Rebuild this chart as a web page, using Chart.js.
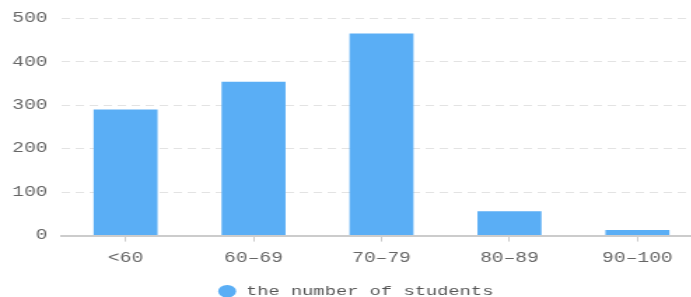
<!DOCTYPE html>
<html>
<head>
<meta charset="utf-8">
<script src="https://cdn.jsdelivr.net/npm/chart.js@4"></script>
<style>
  html, body { margin: 0; padding: 0; background: #fff; overflow: hidden; }
  #wrap { width: 502px; height: 297px; overflow: hidden; transform: scaleX(1.4); transform-origin: 0 0; }
</style>
</head>
<body>
<div id="wrap"><canvas id="chart" width="502" height="308"></canvas></div>
<script>
// 資料
const categories = ['<60', '60-69', '70-79', '80-89', '90-100'];
const students = [290, 354, 465, 56, 13];
const yTicks = [0, 100, 200, 300, 400, 500];

const font = { family: '"Liberation Mono", "DejaVu Sans Mono", monospace', size: 14 };

const ctx = document.getElementById('chart').getContext('2d');
window.scoreChart = new Chart(ctx, {
    type: 'bar',
    data: {
        labels: categories.map(c => c.replace('-', '\u2013')),
        datasets: [{
            label: 'the number of students',
            data: students,
            backgroundColor: '#5aaef5',
            borderWidth: 0,
            barPercentage: 0.5,
            categoryPercentage: 1
        }]
    },
    options: {
        responsive: false,
        animation: false,
        layout: { padding: { top: 17, right: 1, left: 7, bottom: 0 } },
        plugins: {
            legend: {
                position: 'bottom',
                labels: {
                    usePointStyle: true,
                    pointStyle: 'circle',
                    boxWidth: 15,
                    boxHeight: 9,
                    color: '#555',
                    font: { family: font.family, size: 13.4 },
                    padding: 1
                }
            },
            tooltip: { enabled: false }
        },
        scales: {
            x: {
                grid: {
                    offset: false,
                    drawOnChartArea: false,
                    color: '#cccccc',
                    tickLength: 6
                },
                border: { color: '#cccccc', width: 2 },
                ticks: { color: '#666', font: font, padding: 8 },
                afterFit: axis => { axis.height = 48; }
            },
            y: {
                min: 0,
                max: 500,
                afterBuildTicks: axis => { axis.ticks = yTicks.map(v => ({ value: v })); },
                afterFit: axis => { axis.width = 37; },
                grid: {
                    drawTicks: false,
                    color: '#e3e3e3',
                    lineWidth: 1
                },
                border: { display: false, dash: [6, 4] },
                ticks: { color: '#666', font: font, padding: 10 }
            }
        }
    }
});
</script>
</body>
</html>
